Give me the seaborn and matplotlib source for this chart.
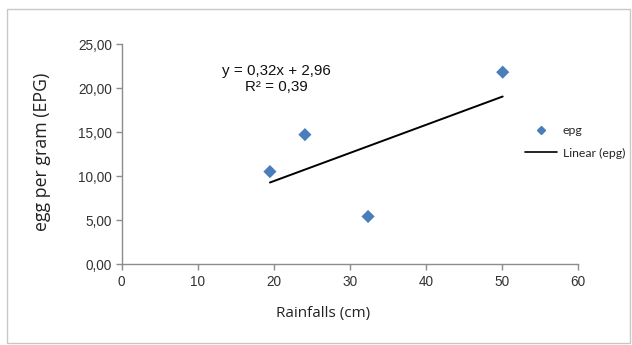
import matplotlib
matplotlib.use("Agg")
import matplotlib.pyplot as plt
import seaborn as sns
import pandas as pd
from matplotlib.patches import Rectangle
from matplotlib.lines import Line2D
from matplotlib.ticker import FuncFormatter

rainfall = [19.5, 24.1, 32.4, 50.1]
epg = [10.5, 14.7, 5.4, 21.8]
x_ticks = [0, 10, 20, 30, 40, 50, 60]
y_ticks = [0, 5, 10, 15, 20, 25]

df = pd.DataFrame({"Rainfalls (cm)": rainfall, "epg": epg})

sns.set_style("white")
plt.rcParams["font.family"] = ["Liberation Sans", "DejaVu Sans"]

W, H = 632, 345
fig = plt.figure(figsize=(W / 100, H / 100), dpi=100)
ax = fig.add_axes([121.6 / W, 1 - 264 / H, (578 - 121.6) / W, (264 - 44) / H])

fig.patches.append(Rectangle((7 / W, 2 / H), (630 - 7) / W, (336 - 2) / H,
                             transform=fig.transFigure, fill=False,
                             edgecolor="#c8c8c8", linewidth=1))

sns.regplot(data=df, x="Rainfalls (cm)", y="epg", ci=None, ax=ax,
            marker="D",
            scatter_kws={"color": "#4a7ebb", "s": 45, "alpha": 1,
                         "edgecolors": "none", "zorder": 3},
            line_kws={"color": "black", "linewidth": 1.4, "zorder": 2})

ax.set_xlim(0, 60)
ax.set_ylim(0, 25)
ax.set_xticks(x_ticks)
ax.set_yticks(y_ticks)
ax.yaxis.set_major_formatter(FuncFormatter(lambda v, p: f"{v:.2f}".replace(".", ",")))
for s in ["top", "right"]:
    ax.spines[s].set_visible(False)
for s in ["left", "bottom"]:
    ax.spines[s].set_color("#8c8c8c")
    ax.spines[s].set_linewidth(1)
ax.tick_params(axis="both", which="major", length=4, width=1, color="#8c8c8c",
               labelsize=9.8, labelcolor="#333333", direction="out")
ax.tick_params(axis="x", pad=4)
ax.tick_params(axis="y", pad=3)
ax.tick_params(bottom=True, left=True)

ax.set_xlabel("Rainfalls (cm)", fontsize=11, family=["Open Sans", "DejaVu Sans"],
              color="#222222")
ax.xaxis.set_label_coords((323 - 121.6) / (578 - 121.6), -(306 - 264) / (264 - 44))
ax.set_ylabel("egg per gram (EPG)", fontsize=12.8, family=["Open Sans", "DejaVu Sans"],
              color="#222222")
ax.yaxis.set_label_coords(-(121.6 - 51) / (578 - 121.6), (264 - 152) / (264 - 44))

fig.text(276 / W, 1 - 71 / H, "y = 0,32x + 2,96", ha="center", va="center",
         fontsize=10.9, color="#111111")
fig.text(276 / W, 1 - 87 / H, "R² = 0,39", ha="center", va="center",
         fontsize=10.9, color="#111111")

handles = [
    Line2D([], [], marker="D", color="#4a7ebb", linestyle="none", markersize=4),
    Line2D([], [], color="black", linewidth=1.2),
]
fig.legend(handles, ["epg", "Linear (epg)"], loc="center left",
           bbox_to_anchor=(514 / W, 1 - 142 / H), frameon=False,
           prop={"family": ["Lato", "DejaVu Sans"], "size": 8.8},
           handlelength=2.6, handletextpad=0.5, labelspacing=0.9)

fig.savefig("out.png", dpi=100, facecolor="white")
